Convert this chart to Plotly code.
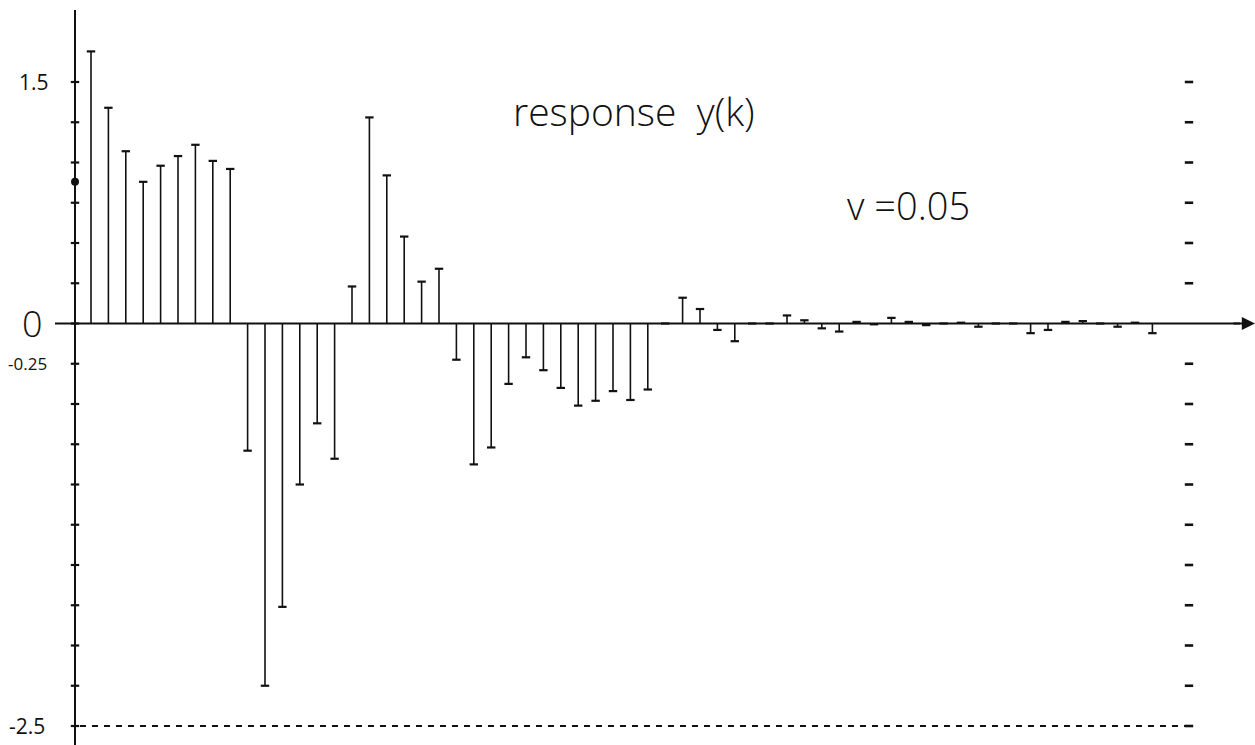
import plotly.graph_objects as go

W, H = 1255, 745

# sample index and response values y(k)
k = list(range(62))
y_k = [
    1.69, 1.34, 1.07, 0.88, 0.98, 1.04, 1.11, 1.01, 0.96,
    -0.79, -2.25, -1.76, -1.00, -0.62, -0.84,
    0.23, 1.28, 0.92, 0.54, 0.26, 0.34,
    -0.225, -0.875, -0.77, -0.375, -0.21, -0.29, -0.40, -0.51, -0.48, -0.42, -0.475, -0.41,
    0.0, 0.16, 0.09, -0.04, -0.11, 0.0, 0.0, 0.05, 0.02, -0.03, -0.05,
    0.01, -0.005, 0.035, 0.01, -0.01, 0.0, 0.005, -0.02, 0.0,
    0.0, -0.06, -0.04, 0.01, 0.015, 0.0, -0.02, 0.005, -0.06,
]

# levels of the small marks along both vertical edges
tick_levels = [1.5, 1.25, 1.0, 0.75, 0.5, 0.25, 0.0, -0.25, -0.5, -0.75,
               -1.0, -1.25, -1.5, -1.75, -2.0, -2.25, -2.5]
right_tick_levels = [v for v in tick_levels if v != 0.0]

# highlighted point on the vertical axis
axis_dot = 0.88

# labels on the vertical axis: (text, value, size, weight, right edge px)
y_labels = [("1.5", 1.5, 21, 400, 51), ("0", 0.0, 36, 300, 45),
            ("-0.25", -0.25, 17, 400, 49), ("-2.5", -2.5, 21, 400, 47)]

title_text = "response  y(k)"
param_text = "v =0.05"

# pixel geometry of the plotting frame
X0_PX, DX_PX = 91.0, 17.4       # pixel of k=0 and spacing between samples
Y0_PX, DY_PX = 323.5, 161.0     # pixel of y=0 and pixels per unit


def kx(px):
    return (px - X0_PX) / DX_PX


def vy(py):
    return (Y0_PX - py) / DY_PX


x_range = [kx(0), kx(W)]
y_range = [vy(H), vy(0)]

AXIS_K = kx(75)
RIGHT_K = kx(1189)

INK = "#111111"
TEXT_FONT = "Open Sans, DejaVu Sans, sans-serif"

fig = go.Figure()

# stems
sx, sy = [], []
for xi, yi in zip(k, y_k):
    sx += [xi, xi, None]
    sy += [0, yi, None]
fig.add_trace(go.Scatter(x=sx, y=sy, mode="lines",
                         line=dict(color=INK, width=1.6), hoverinfo="skip"))
# small caps at the stem tips
fig.add_trace(go.Scatter(x=k, y=y_k, mode="markers",
                         marker=dict(symbol="line-ew", size=6,
                                     line=dict(color=INK, width=2.2)),
                         hoverinfo="skip"))

# horizontal axis
fig.add_shape(type="line", x0=kx(55), x1=kx(1240), y0=0, y1=0,
              line=dict(color=INK, width=2.2))
fig.add_annotation(x=kx(1255), y=0, ax=kx(1232), ay=0, xref="x", yref="y",
                   axref="x", ayref="y", showarrow=True, arrowhead=2,
                   arrowsize=1.2, arrowwidth=2.2, arrowcolor=INK, text="")

# vertical axis
fig.add_shape(type="line", x0=AXIS_K, x1=AXIS_K, y0=vy(10), y1=vy(H),
              line=dict(color=INK, width=2))
fig.add_trace(go.Scatter(x=[AXIS_K] * len(tick_levels), y=tick_levels, mode="markers",
                         marker=dict(symbol="line-ew", size=6,
                                     line=dict(color=INK, width=2.2)),
                         hoverinfo="skip"))
fig.add_trace(go.Scatter(x=[AXIS_K], y=[axis_dot], mode="markers",
                         marker=dict(symbol="circle", size=8, color=INK),
                         hoverinfo="skip"))

# marks on the right edge
fig.add_trace(go.Scatter(x=[RIGHT_K] * len(right_tick_levels), y=right_tick_levels,
                         mode="markers",
                         marker=dict(symbol="line-ew", size=6,
                                     line=dict(color=INK, width=2.6)),
                         hoverinfo="skip"))

# dashed lower bound
fig.add_shape(type="line", x0=kx(80), x1=kx(1192), y0=-2.5, y1=-2.5,
              line=dict(color=INK, width=2.2, dash="6px,6px"))

# axis labels
for text, val, size, weight, right_px in y_labels:
    fig.add_annotation(x=kx(right_px), y=val, xref="x", yref="y", text=text,
                       showarrow=False, xanchor="right", yanchor="middle",
                       font=dict(family=TEXT_FONT, size=size, color=INK, weight=weight))

fig.add_annotation(x=511 / W, y=1 - 111 / H, xref="paper", yref="paper",
                   text=title_text, showarrow=False, xanchor="left", yanchor="middle",
                   font=dict(family=TEXT_FONT, size=39, color=INK, weight=300))
fig.add_annotation(x=845 / W, y=1 - 205 / H, xref="paper", yref="paper",
                   text=param_text, showarrow=False, xanchor="left", yanchor="middle",
                   font=dict(family=TEXT_FONT, size=38, color=INK, weight=300))

fig.update_layout(
    width=W, height=H, autosize=False,
    margin=dict(l=0, r=0, t=0, b=0, pad=0),
    paper_bgcolor="white", plot_bgcolor="white",
    showlegend=False,
    xaxis=dict(range=x_range, visible=False, fixedrange=True),
    yaxis=dict(range=y_range, visible=False, fixedrange=True),
)

fig.write_html("out.html")
